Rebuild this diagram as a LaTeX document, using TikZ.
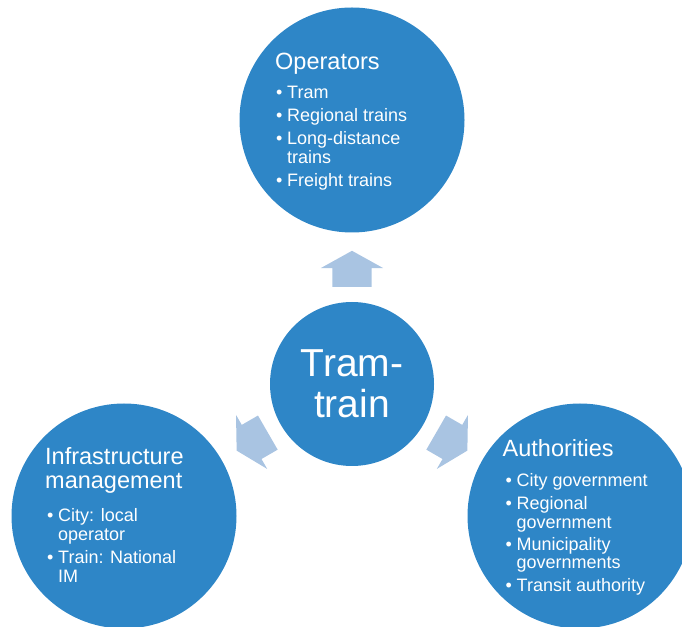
\documentclass[tikz,border=0pt]{standalone}
\usepackage{fontspec}
\setmainfont{Liberation Sans}
\usetikzlibrary{shapes.arrows,calc,positioning}
\definecolor{tblue}{RGB}{46,134,199}
\definecolor{tarrow}{RGB}{169,196,226}
\newcommand{\bitem}{\makebox[11pt][l]{\textbullet}}
\newcommand{\bcont}{\hspace*{11pt}}

\begin{document}
\begin{tikzpicture}[x=1pt,y=1pt,
    bubble/.style={circle, fill=tblue, inner sep=0pt, minimum size=225pt},
    blockarrow/.style={single arrow, fill=tarrow, inner xsep=0pt, inner ysep=19.5pt,
      minimum height=36pt, single arrow head extend=11.5pt,
      single arrow tip angle=122, anchor=tail},
    heading/.style={text=white, anchor=base west, inner sep=0pt, align=left,
      font=\fontsize{23.5}{24}\selectfont},
    items/.style={text=white, anchor=base west, inner sep=0pt, align=left,
      font=\fontsize{18}{18.5}\selectfont}]
  \useasboundingbox (0,0) rectangle (682,626);

  % hub and the three parties around it
  \node[bubble, minimum size=164pt] (hub) at (352,242) {};
  \node[bubble] (ops) at (352,506) {};
  \node[bubble] (infra) at (124,110) {};
  \node[bubble] (auth) at (580,110) {};

  % arrows pointing out of the hub
  \node[blockarrow, rotate=90] (toops) at ($(hub)+(90:97)$) {};
  \node[blockarrow, rotate=210] (toinfra) at ($(hub)+(210:97)$) {};
  \node[blockarrow, rotate=330] (toauth) at ($(hub)+(330:97)$) {};

  \node[text=white, inner sep=0pt, align=center,
    font=\fontsize{39}{41}\selectfont] (hubtxt) at (hub) {Tram-\\train};

  % operators (lists sit on their last baseline)
  \node[heading] (opshead) at (275,556) {Operators};
  \node[items] (opslist) at (276,439.5)
    {\bitem Tram\\[4.5pt]
     \bitem Regional trains\\[4.5pt]
     \bitem Long-distance\\
     \bcont trains\\[4.5pt]
     \bitem Freight trains};

  % infrastructure
  \node[heading] (infrahead) at (45,137) {Infrastructure\\management};
  \node[items] (infralist) at (47,44)
    {\bitem City: local\\
     \bcont operator\\[4.5pt]
     \bitem Train: National\\
     \bcont IM};

  % authorities
  \node[heading] (authhead) at (502.5,169) {Authorities};
  \node[items] (authlist) at (505.5,34.5)
    {\bitem City government\\[4pt]
     \bitem Regional\\
     \bcont government\\[4pt]
     \bitem Municipality\\
     \bcont governments\\[4pt]
     \bitem Transit authority};
\end{tikzpicture}
\end{document}
